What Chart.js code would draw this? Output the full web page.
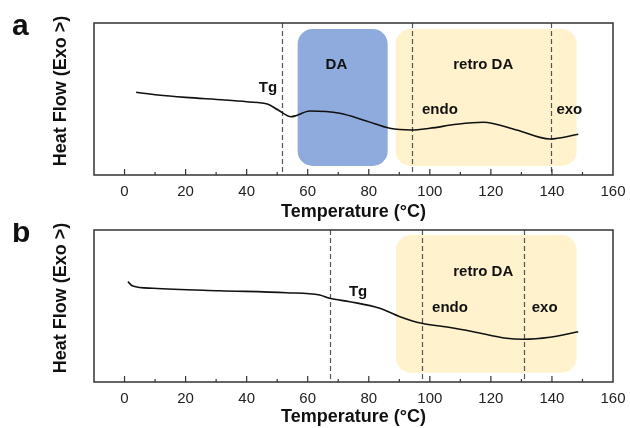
<!DOCTYPE html>
<html>
<head>
<meta charset="utf-8">
<script src="https://cdn.jsdelivr.net/npm/chart.js@4/dist/chart.umd.min.js"></script>
<style>
  html, body { margin: 0; padding: 0; background: #fff; }
  #wrap { position: relative; width: 630px; height: 428px; }
  .panel { position: absolute; left: 0; width: 630px; }
  #pa { top: 0; height: 223px; }
  #pb { top: 223px; height: 205px; }
</style>
</head>
<body>
<div id="wrap">
  <div class="panel" id="pa"><canvas id="chartA"></canvas></div>
  <div class="panel" id="pb"><canvas id="chartB"></canvas></div>
</div>
<script>
// ── Data ───────────────────────────────────────────────────────
var tickValues = [0, 20, 40, 60, 80, 100, 120, 140, 160];

// (a) DSC trace
var tempA = [3.8, 10.9, 20, 32.8, 40, 47, 50.3, 54.6, 56.3, 60.7, 70.5, 79.2, 86.9, 94, 100, 108.8, 117.5, 128.4, 139.3, 148.6];
var heatA = [82.7, 80, 77.6, 75, 73.2, 70.7, 65, 58.3, 59.5, 64, 61.7, 54, 46.7, 45, 46.7, 50.7, 52.7, 45, 36, 40.7];

// (b) DSC trace
var tempB = [1.1, 2.7, 9.3, 31.1, 53, 63.9, 67.2, 73.8, 83.6, 90.2, 97.3, 103.3, 106.6, 114.2, 125.1, 130.6, 139.3, 148.6];
var heatB = [100.3, 96, 93.7, 91.3, 89.3, 87, 83.7, 80.3, 73.7, 65.3, 58.7, 56, 54.5, 50.3, 43.7, 42.7, 44.7, 50.3];

// marker lines (°C)
var linesA = [51.7, 94.1, 139.8];
var linesB = [67.4, 97.3, 130.8];

// shaded regions: [xFrom, xTo, yFrom, yTo, colour]
var regionsA = [[56.7, 86.2, 9, 146, "#8FAADC"], [88.8, 148.1, 9, 146, "#FFF2CC"]];
var regionsB = [[88.9, 148.1, 9.3, 147, "#FFF2CC"]];

// text labels: [text, x, y]
var notesA = [["Tg", 47, 86.7], ["DA", 69.4, 110], ["retro DA", 117.5, 110], ["endo", 103.3, 65], ["exo", 145.7, 65]];
var notesB = [["Tg", 76.5, 90.3], ["retro DA", 117.5, 110.3], ["endo", 106.6, 73.7], ["exo", 137.6, 73.7]];

var FONT = "'Liberation Sans', Arial, sans-serif";
var INK = "#222";

function toPoints(xs, ys) {
  return xs.map(function (x, i) { return { x: x, y: ys[i] }; });
}

// Decorations drawn through the chart's own scales.
var decor = {
  id: "decor",
  beforeDatasetsDraw: function (chart, args, o) {
    var ctx = chart.ctx, xs = chart.scales.x, ys = chart.scales.y;
    ctx.save();
    o.regions.forEach(function (r) {
      var x1 = xs.getPixelForValue(r[0]), x2 = xs.getPixelForValue(r[1]);
      var y1 = ys.getPixelForValue(r[3]), y2 = ys.getPixelForValue(r[2]);
      ctx.fillStyle = r[4];
      ctx.beginPath();
      ctx.roundRect(x1, y1, x2 - x1, y2 - y1, 15);
      ctx.fill();
    });
    var a = chart.chartArea;
    ctx.strokeStyle = "#555";
    ctx.lineWidth = 1.2;
    ctx.setLineDash([5, 3]);
    o.lines.forEach(function (v) {
      var px = Math.round(xs.getPixelForValue(v)) + 0.5;
      ctx.beginPath();
      ctx.moveTo(px, a.top);
      ctx.lineTo(px, a.bottom);
      ctx.stroke();
    });
    ctx.setLineDash([]);
    ctx.fillStyle = "#111";
    ctx.font = "bold 15px " + FONT;
    ctx.textAlign = "center";
    ctx.textBaseline = "middle";
    o.notes.forEach(function (n) {
      ctx.fillText(n[0], xs.getPixelForValue(n[1]), ys.getPixelForValue(n[2]));
    });
    ctx.restore();
  },
  afterDraw: function (chart, args, o) {
    var ctx = chart.ctx, xs = chart.scales.x, a = chart.chartArea;
    ctx.save();
    ctx.strokeStyle = "#333";
    ctx.lineWidth = 1.5;
    ctx.strokeRect(a.left, a.top, a.right - a.left, a.bottom - a.top);
    // inward ticks, major every 20, minor every 10
    ctx.lineWidth = 1.2;
    for (var v = 0; v < 160; v += 10) {
      var px = xs.getPixelForValue(v);
      var len = v % 20 === 0 ? 6 : 3;
      ctx.beginPath();
      ctx.moveTo(px, a.bottom);
      ctx.lineTo(px, a.bottom - len);
      ctx.stroke();
    }
    // panel letter + y title
    ctx.fillStyle = "#111";
    ctx.font = "bold 30px " + FONT;
    ctx.textAlign = "left";
    ctx.textBaseline = "alphabetic";
    ctx.fillText(o.letter, 12, a.top + 12 + o.letterShift);
    ctx.translate(61, (a.top + a.bottom) / 2 - 8);
    ctx.rotate(-Math.PI / 2);
    ctx.font = "bold 18px " + FONT;
    ctx.textAlign = "center";
    ctx.textBaseline = "middle";
    ctx.fillText("Heat Flow (Exo >)", 0, 0);
    ctx.restore();
  }
};

function makeChart(id, xs, ys, opts) {
  return new Chart(document.getElementById(id), {
    type: "line",
    data: {
      datasets: [{
        data: toPoints(xs, ys),
        borderColor: "#111",
        borderWidth: 1.6,
        pointRadius: 0,
        fill: false,
        cubicInterpolationMode: "monotone"
      }]
    },
    options: {
      responsive: true,
      maintainAspectRatio: false,
      animation: false,
      layout: { padding: { left: 94, right: 17, top: opts.top, bottom: 0 } },
      plugins: {
        legend: { display: false },
        tooltip: { enabled: false },
        decor: opts.decor
      },
      scales: {
        x: {
          type: "linear",
          min: -10,
          max: 160,
          afterBuildTicks: function (s) {
            s.ticks = tickValues.map(function (v) { return { value: v }; });
          },
          afterFit: function (s) {
            s.height = opts.axisH;
            s.paddingLeft = 0;
            s.paddingRight = 0;
          },
          grid: { display: false, drawTicks: false },
          border: { display: false },
          ticks: { color: INK, padding: 8, maxRotation: 0, font: { family: FONT, size: 15 } },
          title: {
            display: true,
            text: "Temperature (°C)",
            color: "#111",
            padding: 0,
            font: { family: FONT, size: 18, weight: "bold" }
          }
        },
        y: { display: false, min: 0, max: 152 }
      }
    },
    plugins: [decor]
  });
}

makeChart("chartA", tempA, heatA, {
  top: 23, axisH: 48,
  decor: { regions: regionsA, lines: linesA, notes: notesA, letter: "a", letterShift: 0 }
});
makeChart("chartB", tempB, heatB, {
  top: 7, axisH: 46,
  decor: { regions: regionsB, lines: linesB, notes: notesB, letter: "b", letterShift: 0 }
});
</script>
</body>
</html>
